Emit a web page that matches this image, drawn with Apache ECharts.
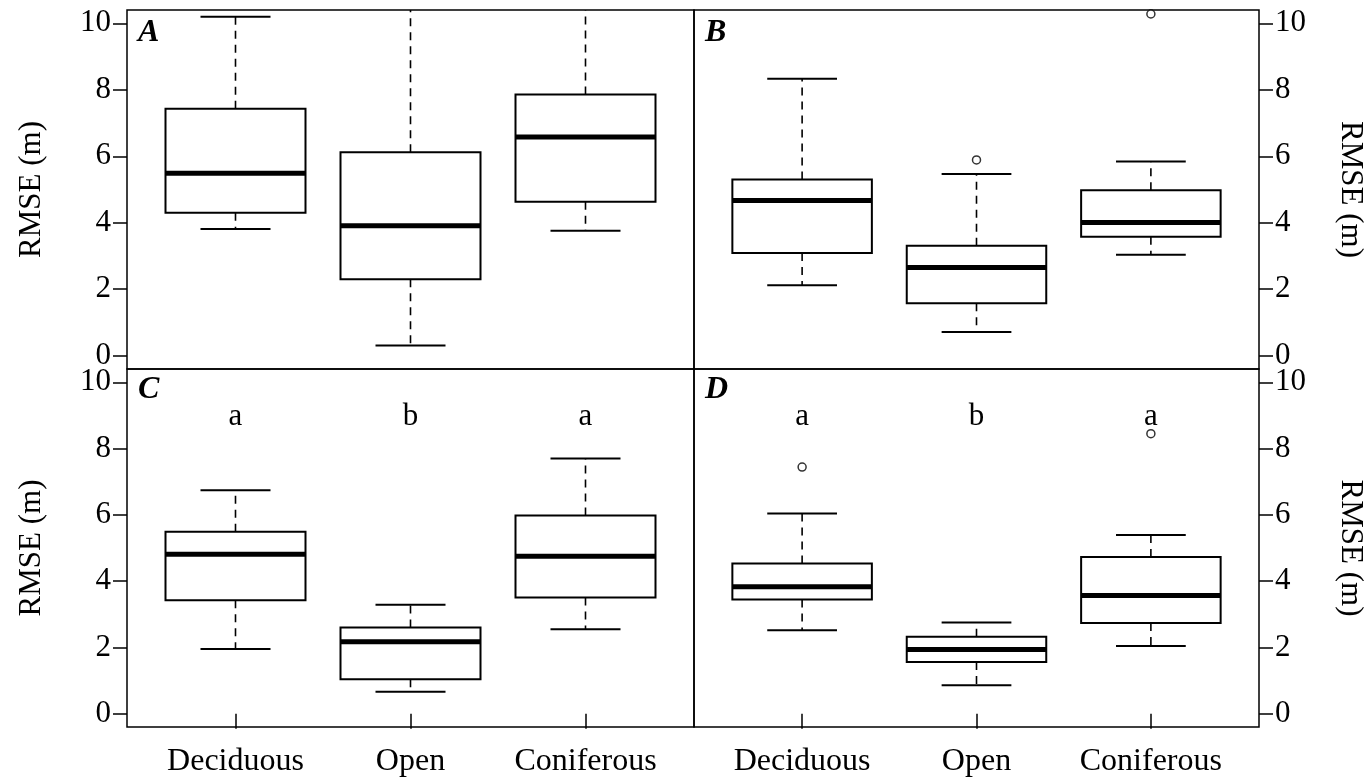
<!DOCTYPE html>
<html>
<head>
<meta charset="utf-8">
<script src="https://cdn.jsdelivr.net/npm/echarts@6/dist/echarts.min.js"></script>
<style>
html,body{margin:0;padding:0;background:#fff;}
#chart{width:1371px;height:780px;}
</style>
</head>
<body>
<div id="chart"></div>
<script>
// ---- data ----
const categories = ['Deciduous', 'Open', 'Coniferous'];
const yTicks = [0, 2, 4, 6, 8, 10];
const panelLabels = ['A', 'B', 'C', 'D'];
// each box: [lower whisker, Q1, median, Q3, upper whisker]
const boxA = [[3.81, 4.30, 5.49, 7.43, 10.20], [0.31, 2.30, 3.91, 6.12, 11.2], [3.76, 4.63, 6.58, 7.86, 11.0]];
const boxB = [[2.12, 3.09, 4.67, 5.30, 8.33], [0.71, 1.58, 2.65, 3.31, 5.47], [3.04, 3.58, 4.01, 4.98, 5.84]];
const boxC = [[1.95, 3.42, 4.81, 5.49, 6.74], [0.66, 1.04, 2.17, 2.60, 3.29], [2.55, 3.51, 4.75, 5.98, 7.70]];
const boxD = [[2.52, 3.45, 3.83, 4.53, 6.04], [0.86, 1.56, 1.94, 2.32, 2.75], [2.04, 2.74, 3.57, 4.73, 5.39]];
const outliersA = [];
const outliersB = [['Open', 5.89], ['Coniferous', 10.28]];
const outliersC = [];
const outliersD = [['Deciduous', 7.44], ['Coniferous', 8.45]];
const lettersC = ['a', 'b', 'a'];
const lettersD = ['a', 'b', 'a'];
const letterLevel = 8.95;
const yName = 'RMSE (m)';

// ---- chart ----
const FONT = 'Liberation Serif, Times New Roman, serif';
const boxes = [boxA, boxB, boxC, boxD];
const outliers = [outliersA, outliersB, outliersC, outliersD];
const letters = [null, null, lettersC, lettersD];

const grids = [
  {left: 127, top: 10, width: 567, height: 359},
  {left: 694, top: 10, width: 565, height: 359},
  {left: 127, top: 369, width: 567, height: 358},
  {left: 694, top: 369, width: 565, height: 358}
].map(g => Object.assign(g, {show: true, borderColor: '#000', borderWidth: 1.5, backgroundColor: 'transparent'}));

const catPos = categories.map((c, i) => i + 1);

const xAxes = grids.map((g, i) => {
  const bottom = i >= 2;
  return {
    type: 'value', gridIndex: i, min: 0.38, max: 3.62,
    axisLine: {show: false}, splitLine: {show: false},
    axisTick: {show: bottom, customValues: catPos, length: 15, lineStyle: {color: '#000', width: 1.5}},
    axisLabel: {show: bottom, customValues: catPos, margin: 19, fontSize: 32, fontFamily: FONT, color: '#000',
      formatter: v => categories[Math.round(v) - 1] || ''}
  };
});

const yAxes = grids.map((g, i) => {
  const right = (i % 2) === 1;
  return {
    type: 'value', gridIndex: i, min: -0.4, max: 10.4, position: right ? 'right' : 'left',
    axisLine: {show: false}, splitLine: {show: false},
    axisTick: {show: true, customValues: yTicks, length: 14, lineStyle: {color: '#000', width: 1.5}},
    axisLabel: {show: true, customValues: yTicks, margin: 16, fontSize: 31, fontFamily: FONT, color: '#000'},
    name: yName, nameLocation: 'middle', nameGap: right ? 76 : 80, nameRotate: right ? -90 : 90,
    nameTextStyle: {fontSize: 31, fontFamily: FONT, color: '#000'}
  };
});

function renderBox(params, api) {
  const x = api.value(0), lo = api.value(1), q1 = api.value(2), med = api.value(3), q3 = api.value(4), hi = api.value(5);
  const half = 0.4, cap = 0.2;
  const p = (a, b) => api.coord([a, b]);
  const line = (a, b, w, dash) => ({
    type: 'line',
    shape: {x1: a[0], y1: a[1], x2: b[0], y2: b[1]},
    style: {stroke: '#000', lineWidth: w, lineDash: dash || null, fill: null}
  });
  const tl = p(x - half, q3), br = p(x + half, q1);
  return {
    type: 'group',
    children: [
      line(p(x, q3), p(x, hi), 1.6, [8, 6]),
      line(p(x, q1), p(x, lo), 1.6, [8, 6]),
      line(p(x - cap, hi), p(x + cap, hi), 2),
      line(p(x - cap, lo), p(x + cap, lo), 2),
      {type: 'rect', shape: {x: tl[0], y: tl[1], width: br[0] - tl[0], height: br[1] - tl[1]},
        style: {fill: '#fff', stroke: '#000', lineWidth: 2}},
      line(p(x - half, med), p(x + half, med), 5)
    ]
  };
}

const series = [];
boxes.forEach((bx, i) => {
  series.push({
    type: 'custom', xAxisIndex: i, yAxisIndex: i, clip: true,
    data: bx.map((b, j) => [catPos[j]].concat(b)),
    renderItem: renderBox, silent: true
  });
  if (outliers[i].length) {
    series.push({
      type: 'scatter', xAxisIndex: i, yAxisIndex: i, clip: true,
      data: outliers[i].map(o => [categories.indexOf(o[0]) + 1, o[1]]),
      symbol: 'circle', symbolSize: 8,
      itemStyle: {color: '#fff', borderColor: '#000', borderWidth: 1.5},
      silent: true, z: 5
    });
  }
  if (letters[i]) {
    series.push({
      type: 'custom', xAxisIndex: i, yAxisIndex: i,
      data: letters[i].map((t, j) => [catPos[j], letterLevel, t]),
      renderItem: (params, api) => {
        const pt = api.coord([api.value(0), api.value(1)]);
        return {
          type: 'text', x: pt[0], y: pt[1],
          style: {text: letters[i][params.dataIndex], fill: '#000', font: '31px ' + FONT,
            textAlign: 'center', textVerticalAlign: 'middle'}
        };
      },
      silent: true, z: 6
    });
  }
});

const titlePos = [[138, 17], [705, 17], [138, 374], [705, 374]];
const titles = panelLabels.map((t, i) => ({
  text: t, left: titlePos[i][0], top: titlePos[i][1], padding: 0,
  textStyle: {fontFamily: FONT, fontStyle: 'italic', fontWeight: 'bold', fontSize: 32, color: '#000'}
}));

const chart = echarts.init(document.getElementById('chart'), null, {renderer: 'canvas'});
chart.setOption({
  backgroundColor: '#fff',
  animation: false,
  title: titles,
  grid: grids,
  xAxis: xAxes,
  yAxis: yAxes,
  series: series
});
</script>
</body>
</html>
